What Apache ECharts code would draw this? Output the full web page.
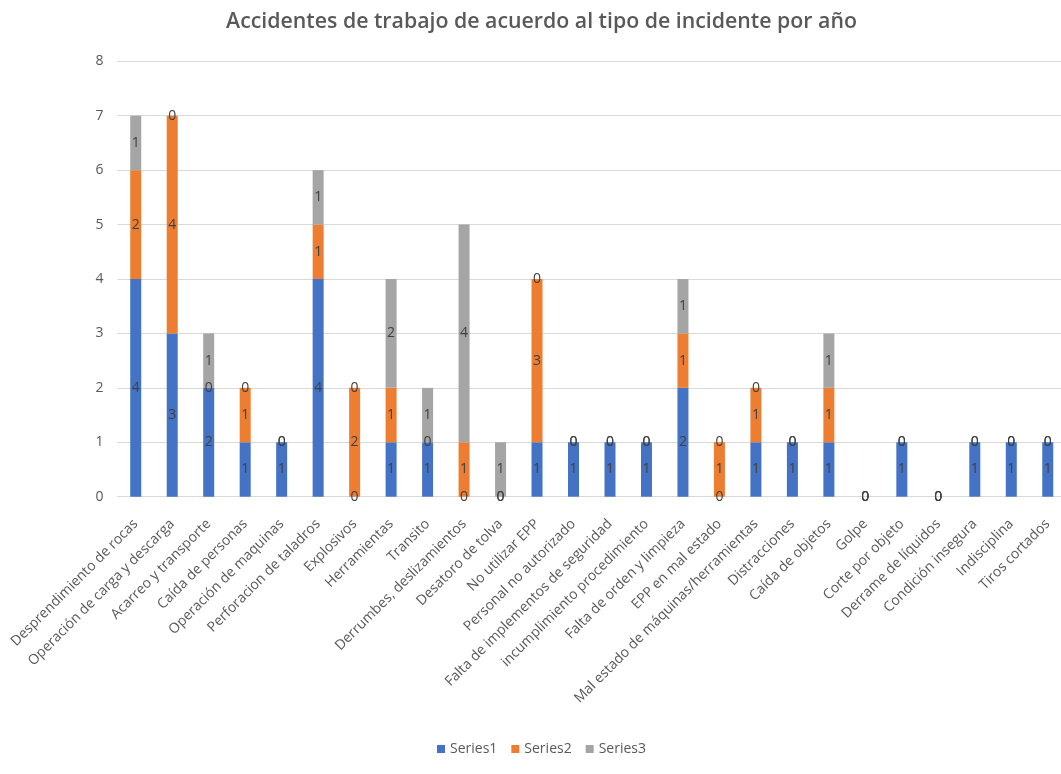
<!DOCTYPE html>
<html>
<head>
<meta charset="utf-8">
<script src="https://cdn.jsdelivr.net/npm/echarts@6/dist/echarts.min.js"></script>
<style>
html,body{margin:0;padding:0;background:#fff;overflow:hidden;}
#chart{width:1083px;height:774px;}
</style>
</head>
<body>
<div id="chart"></div>
<script>
const categories = [
  "Desprendimiento de rocas", "Operación de carga y descarga", "Acarreo y transporte",
  "Caída de personas", "Operación de maquinas", "Perforacion de taladros", "Explosivos",
  "Herramientas", "Transito", "Derrumbes, deslizamientos", "Desatoro de tolva",
  "No utilizar EPP", "Personal no autorizado", "Falta de implementos de seguridad",
  "incumplimiento procedimiento", "Falta de orden y limpieza", "EPP en mal estado",
  "Mal estado de máquinas/herramientas", "Distracciones", "Caída de objetos", "Golpe",
  "Corte por objeto", "Derrame de líquidos", "Condición insegura", "Indisciplina", "Tiros cortados"
];
const series1 = [4, 3, 2, 1, 1, 4, 0, 1, 1, 0, 0, 1, 1, 1, 1, 2, 0, 1, 1, 1, 0, 1, 0, 1, 1, 1];
const series2 = [2, 4, 0, 1, 0, 1, 2, 1, 0, 1, 0, 3, 0, 0, 0, 1, 1, 1, 0, 1, 0, 0, 0, 0, 0, 0];
const series3 = [1, 0, 1, 0, 0, 1, 0, 2, 1, 4, 1, 0, 0, 0, 0, 1, 0, 0, 0, 1, 0, 0, 0, 0, 0, 0];
const seriesNames = ["Series1", "Series2", "Series3"];
const yTicks = [0, 8, 1];

const font = "'Open Sans', 'Noto Sans', sans-serif";
const colors = ["#4472C4", "#ED7D31", "#A5A5A5"];
const chart = echarts.init(document.getElementById('chart'), null, {renderer: 'canvas'});

function mk(name, data, color) {
  return {
    name: name, type: 'bar', stack: 'total', data: data, barWidth: 11,
    itemStyle: {color: color},
    label: {show: true, position: 'inside', color: '#404040', fontFamily: font, fontSize: 14,
      formatter: p => String(p.value)},
    labelLayout: {hideOverlap: false}
  };
}

chart.setOption({
  animation: false,
  backgroundColor: '#fff',
  title: {
    text: 'Accidentes de trabajo de acuerdo al tipo de incidente por año',
    left: 'center', top: 6,
    textStyle: {fontFamily: font, fontSize: 21.3, fontWeight: 600, color: '#595959'}
  },
  legend: {
    bottom: 13, left: 'center', itemWidth: 8, itemHeight: 8, itemGap: 14, icon: 'rect',
    textStyle: {fontFamily: font, fontSize: 14, color: '#595959'},
    data: seriesNames
  },
  grid: {left: 117.5, right: 17, top: 61.3, bottom: 277.3, containLabel: false},
  xAxis: {
    type: 'category', data: categories,
    axisLine: {show: true, lineStyle: {color: '#D9D9D9', width: 1}},
    axisTick: {show: false},
    axisLabel: {interval: 0, rotate: 45, margin: 25, fontFamily: font, fontSize: 14, color: '#595959'}
  },
  yAxis: {
    type: 'value', min: yTicks[0], max: yTicks[1], interval: yTicks[2],
    axisLine: {show: false}, axisTick: {show: false},
    splitLine: {lineStyle: {color: '#D9D9D9', width: 1}},
    axisLabel: {margin: 14, fontFamily: font, fontSize: 14, color: '#595959'}
  },
  series: [mk(seriesNames[0], series1, colors[0]), mk(seriesNames[1], series2, colors[1]), mk(seriesNames[2], series3, colors[2])]
});
</script>
</body>
</html>
